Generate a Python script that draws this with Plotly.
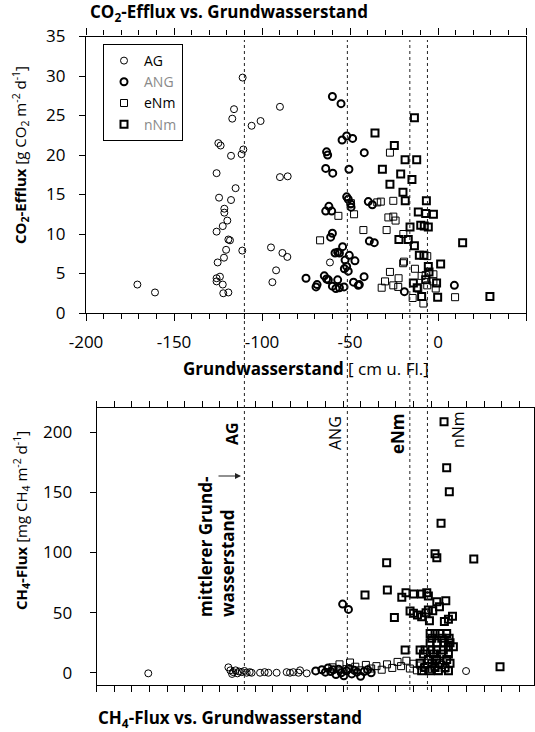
import plotly.graph_objects as go

# ---------------- DATA ----------------
# CO2 efflux vs groundwater level (cm below surface, negative = below)
ag_x = [-170.8, -160.8, -124.8, -123.5, -117.6, -111.6, -110.6, -111.0, -115.9, -116.9, -105.9, -100.8,
        -89.8, -125.8, -115.0, -124.4, -117.6, -121.4, -121.4, -119.7, -122.3, -125.8, -119.1, -118.2,
        -120.4, -121.6, -111.2, -125.2, -125.8, -123.9, -125.8, -122.3, -122.0, -119.1, -89.8, -85.4,
        -94.9, -88.4, -85.6, -92.0, -94.1, -61.4]
ag_co2 = [3.6, 2.6, 21.5, 21.2, 19.9, 20.1, 20.7, 29.8, 25.8, 24.6, 23.7, 24.3,
          26.1, 17.7, 15.8, 14.6, 14.3, 13.2, 12.7, 11.7, 11.0, 10.3, 9.3, 9.2,
          8.0, 7.0, 7.9, 6.4, 4.4, 4.6, 4.0, 3.6, 2.5, 2.6, 17.2, 17.3,
          8.3, 7.6, 7.1, 5.4, 3.9, 6.4]

ang_x = [-75.0, -69.3, -68.7, -64.6, -63.3, -60.0, -55.1, -54.5, -51.9, -48.5, -63.3, -62.7,
         -41.9, -63.8, -59.8, -50.6, -51.9, -51.0, -49.6, -39.6, -37.3, -62.0, -63.8, -60.4,
         -60.0, -61.0, -39.0, -36.2, -54.2, -58.5, -57.0, -56.0, -50.4, -52.8, -47.2, -51.9,
         -53.2, -51.0, -62.3, -57.0, -60.0, -58.0, -56.0, -53.4, -48.0, -45.3, -44.7, -42.0,
         -19.1, 9.3, -49.4]
ang_co2 = [4.4, 3.3, 3.6, 4.7, 4.3, 27.4, 26.5, 21.9, 22.4, 22.1, 20.4, 20.0,
           20.3, 18.3, 17.7, 18.2, 14.7, 14.4, 13.8, 14.1, 13.7, 13.5, 12.9, 12.9,
           10.1, 9.6, 9.1, 8.9, 8.4, 7.6, 7.7, 7.6, 7.3, 6.7, 6.6, 5.9,
           5.6, 5.3, 4.2, 4.2, 3.4, 3.1, 3.2, 3.3, 3.9, 3.5, 3.6, 4.6,
           2.7, 3.5, 13.4]

enm_x = [-67.0, -56.6, -47.7, -49.5, -42.4, -34.5, -32.5, -27.3, -25.4, -28.2, -25.4, -24.1,
         -29.2, -19.7, -19.8, -19.3, -13.1, -27.3, -9.3, -7.0, -2.6, -22.4, -30.1, -32.0,
         -25.4, -22.6, -14.4, -8.3, 9.7, -11.2, -6.1, -1.3, -2.6, -6.1]
enm_co2 = [9.2, 12.3, 12.5, 13.9, 10.5, 14.0, 14.1, 20.3, 14.2, 12.1, 12.2, 11.7,
           10.5, 10.0, 6.3, 6.5, 5.6, 5.2, 4.7, 4.8, 4.9, 4.4, 4.0, 3.2,
           3.5, 3.3, 1.9, 1.2, 2.0, 3.1, 3.5, 3.1, 4.0, 7.2]

nnm_x = [-13.4, -35.8, -24.8, -18.7, -12.1, -31.6, -21.2, -14.8, -27.3, -19.9, -18.6, -6.6,
         -11.2, -7.0, -2.6, -9.8, -7.8, -5.5, -15.9, -22.2, -16.9, -13.4, -10.6, -8.0,
         14.0, -5.5, -5.1, 1.5, -7.0, -0.8, -11.8, -9.3, -0.2, 29.5, -14.0]
nnm_co2 = [24.7, 22.8, 21.2, 19.4, 19.4, 18.2, 17.6, 16.9, 16.3, 15.3, 14.2, 14.2,
           12.8, 12.6, 12.5, 11.1, 11.0, 10.9, 10.9, 9.3, 9.3, 8.5, 7.3, 7.3,
           8.9, 5.9, 5.2, 6.2, 4.2, 3.8, 3.2, 2.1, 2.0, 2.1, 3.8]

# CH4 flux vs groundwater level
ag_ch4_x = [-164.6, -119.1, -118.0, -117.0, -116.3, -115.0, -114.0, -113.0, -111.5, -110.0, -108.7,
            -107.0, -105.9, -101.1, -98.5, -96.4, -91.7, -86.0, -84.1, -82.2, -79.3, -78.4, -74.6, 15.9]
ag_ch4 = [-0.5, 4.5, 2.0, -1.0, 0.5, 2.0, -0.5, 1.0, 0.5, 1.5, 0.0,
          0.5, 0.0, 0.0, 0.5, 0.0, 0.0, 0.5, 0.0, 0.5, 0.0, 2.0, -0.5, 1.4]

ang_ch4_x = [-69.5, -66.0, -64.0, -62.5, -61.0, -59.5, -58.0, -56.5, -55.0, -53.5, -52.0,
             -50.5, -49.0, -47.5, -46.0, -44.0, -42.0, -40.0, -38.0, -54.2, -50.9]
ang_ch4 = [1.5, 2.5, 0.5, 4.0, 1.0, 2.5, -1.5, 3.0, 0.0, -2.5, 1.5,
           3.5, -1.0, 2.0, 0.5, -3.0, 1.0, 2.5, 0.0, 57.1, 52.7]

enm_ch4_x = [-60, -56, -52, -50, -47, -44, -41, -38, -35, -32, -29, -26, -23, -21,
             -18, -16, -14, -12, -10, -8, -6, -4, -2, 0, 2, 4, 6]
enm_ch4 = [4.5, 7.0, 3.0, 8.5, 5.0, 2.0, 6.5, 3.5, 5.5, 2.5, 7.0, 4.0, 9.0, 5.5,
           10.0, 3.5, 7.5, 2.0, 6.0, 4.5, 8.0, 3.0, 5.5, 2.0, 6.5, 3.5, 1.5]

nnm_ch4_x = [3.4, 4.9, 6.4, 1.7, -1.7, -0.7, 20.3, -29.2, -41.5, -28.8, -20.6, -18.2, -14.0,
             -9.3, -6.4, -5.5, -24.8, -15.9, -14.0, -11.7, -9.3, -6.8, -5.5, -3.0, -0.7, 4.4,
             0.8, -4.9, 3.6, 5.9, 8.2, -18.7, 35.2,
             -4.5, -1.7, 1.1, 4.9, -3.6, 2.1, 6.3, -4.5, -0.8, 3.6, 6.8, 5.9, 8.7,
             -10.2, -7.4, -4.1, -0.8, 3.0, -8.3, -2.6, 2.1, 5.9, -5.5, -0.8, 4.9,
             -10.2, -3.6, 1.1, 6.8, -7.4, -1.7, 4.0, -9.3, -4.5, 0.2, 5.9]
nnm_ch4 = [208.8, 170.6, 150.6, 124.3, 99.0, 95.7, 94.6, 91.5, 64.6, 68.8, 62.7, 66.6, 65.5,
           65.5, 66.6, 63.8, 46.0, 51.3, 49.4, 48.0, 46.6, 49.9, 52.1, 51.6, 59.0, 59.9,
           54.9, 43.3, 42.7, 44.4, 47.0, 18.9, 5.0,
           32.7, 32.7, 32.7, 32.7, 28.6, 28.6, 28.6, 25.0, 25.0, 25.0, 25.0, 21.6, 21.6,
           18.9, 18.9, 18.9, 18.9, 18.9, 15.5, 15.5, 15.5, 15.5, 11.1, 11.1, 11.1,
           7.8, 7.8, 7.8, 7.8, 4.4, 4.4, 4.4, 1.7, 1.7, 1.7, 1.7]

# mean groundwater level of each site
site_names = ["AG", "ANG", "eNm", "nNm"]
mean_level = [-110.0, -51.5, -16.0, -6.0]

# tick labels
co2_ticks = [0, 5, 10, 15, 20, 25, 30, 35]
ch4_ticks = [0, 50, 100, 150, 200]
x_ticks = [-200, -150, -100, -50, 0, 50]
x_ticklabels = ["-200", "-150", "-100", "-50", "0", "50"]

# ---------------- FIGURE ----------------
W, H = 535, 732
FONT = "Open Sans"


def px(x):
    return x / W


def py(y):
    return 1 - y / H


fig = go.Figure()

styles = {
    "AG": dict(symbol="circle-open", size=7, color="black", line=dict(width=1.0, color="black")),
    "ANG": dict(symbol="circle-open", size=7, color="black", line=dict(width=2.0, color="black")),
    "eNm": dict(symbol="square-open", size=7, color="black", line=dict(width=1.0, color="black")),
    "nNm": dict(symbol="square-open", size=7, color="black", line=dict(width=2.0, color="black")),
}
legend_names = {
    "AG": "AG",
    "ANG": "<span style='color:#8a8a8a'>ANG</span>",
    "eNm": "eNm",
    "nNm": "<span style='color:#8a8a8a'>nNm</span>",
}

top_sets = [("AG", ag_x, ag_co2), ("ANG", ang_x, ang_co2), ("eNm", enm_x, enm_co2), ("nNm", nnm_x, nnm_co2)]
bot_sets = [("AG", ag_ch4_x, ag_ch4), ("ANG", ang_ch4_x, ang_ch4), ("eNm", enm_ch4_x, enm_ch4),
            ("nNm", nnm_ch4_x, nnm_ch4)]

for name, xs, ys in top_sets:
    fig.add_trace(go.Scatter(x=xs, y=ys, mode="markers", name=legend_names[name],
                             marker=styles[name], xaxis="x", yaxis="y", showlegend=True))
for name, xs, ys in bot_sets:
    fig.add_trace(go.Scatter(x=xs, y=ys, mode="markers", name=name,
                             marker=styles[name], xaxis="x2", yaxis="y2", showlegend=False))

axis_common = dict(showgrid=False, zeroline=False, linecolor="black", linewidth=1.3,
                   ticks="outside", tickcolor="black", tickwidth=1, automargin=False,
                   tickfont=dict(family=FONT, size=17, color="black"))

fig.update_layout(
    template="none",
    width=W, height=H,
    margin=dict(l=0, r=0, t=0, b=0, pad=0, autoexpand=False),
    paper_bgcolor="white", plot_bgcolor="white",
    font=dict(family=FONT, color="black"),
    xaxis=dict(domain=[px(86), px(526)], range=[-200, 50], tickvals=x_ticks, ticktext=x_ticklabels,
               ticklen=7, mirror="ticks", anchor="y", ticklabelstandoff=6,
               minor=dict(dtick=10, tick0=0, ticklen=5, ticks="outside", tickcolor="black"),
               **axis_common),
    yaxis=dict(domain=[py(313), py(36.5)], range=[0, 35], tickvals=co2_ticks,
               ticklen=6, mirror=True, anchor="x", ticklabelstandoff=10, **axis_common),
    xaxis2=dict(domain=[px(96.7), px(534)], range=[-193.9, 54.5], tick0=-193.9, dtick=10,
                ticklen=6, mirror="ticks", showticklabels=False, anchor="y2", **axis_common),
    yaxis2=dict(domain=[py(685), py(408.3)], range=[-10.2, 220], tickvals=ch4_ticks,
                ticklen=6, mirror=True, anchor="x2", ticklabelstandoff=14, **axis_common),
    legend=dict(x=px(103), y=py(44), xanchor="left", yanchor="top",
                bordercolor="black", borderwidth=1, bgcolor="white",
                font=dict(family=FONT, size=14, color="black"),
                itemwidth=30, tracegroupgap=0),
    showlegend=True,
)

# dotted vertical lines for mean groundwater levels
for lvl in mean_level:
    fig.add_shape(type="line", xref="x", yref="paper", x0=lvl, x1=lvl,
                  y0=py(690), y1=py(40), line=dict(color="#222", width=1, dash="dot"),
                  layer="above")

ann = []
# titles
ann.append(dict(text="<b>CO<sub>2</sub>-Efflux vs. Grundwasserstand</b>", x=px(88), y=py(13),
                xanchor="left", yanchor="middle", font=dict(size=17)))
ann.append(dict(text="<b>CH<sub>4</sub>-Flux vs. Grundwasserstand</b>", x=px(96), y=py(718),
                xanchor="left", yanchor="middle", font=dict(size=17)))
ann.append(dict(text="<b>Grundwasserstand</b> [ cm u. Fl.]", x=px(306), y=py(369),
                xanchor="center", yanchor="middle", font=dict(size=17)))
ann.append(dict(text="<b>CO<sub>2</sub>-Efflux</b> [g CO<sub>2</sub> m<sup>-2</sup> d<sup>-1</sup>]",
                x=px(21), y=py(155), textangle=-90, xanchor="center", yanchor="middle",
                font=dict(size=15)))
ann.append(dict(text="<b>CH<sub>4</sub>-Flux</b> [mg CH<sub>4</sub> m<sup>-2</sup> d<sup>-1</sup>]",
                x=px(21), y=py(521), textangle=-90, xanchor="center", yanchor="middle",
                font=dict(size=15)))
# site labels in CH4 panel
ann.append(dict(text="<b>AG</b>", x=px(232), y=py(434), textangle=-90, font=dict(size=16)))
ann.append(dict(text="ANG", x=px(335), y=py(433), textangle=-90, font=dict(size=16)))
ann.append(dict(text="<b>eNm</b>", x=px(397), y=py(434), textangle=-90, font=dict(size=17)))
ann.append(dict(text="nNm", x=px(458), y=py(430), textangle=-90, font=dict(size=16)))
ann.append(dict(text="<b>mittlerer Grund-<br>wasserstand</b>", x=px(216), y=py(547), textangle=-90,
                align="left", font=dict(size=17)))
for a in ann:
    a.setdefault("xref", "paper")
    a.setdefault("yref", "paper")
    a.setdefault("showarrow", False)
    a.setdefault("xanchor", "center")
    a.setdefault("yanchor", "middle")
    f = a.get("font", {})
    f.setdefault("family", FONT)
    f.setdefault("color", "black")
    a["font"] = f
    fig.add_annotation(**a)

# arrow pointing at the AG mean groundwater line
fig.add_annotation(x=px(241), y=py(476), ax=-24, ay=0, xref="paper", yref="paper",
                   axref="pixel", ayref="pixel", text="", showarrow=True,
                   arrowhead=2, arrowsize=1, arrowwidth=1.2, arrowcolor="#222")

fig.write_html("out.html")
